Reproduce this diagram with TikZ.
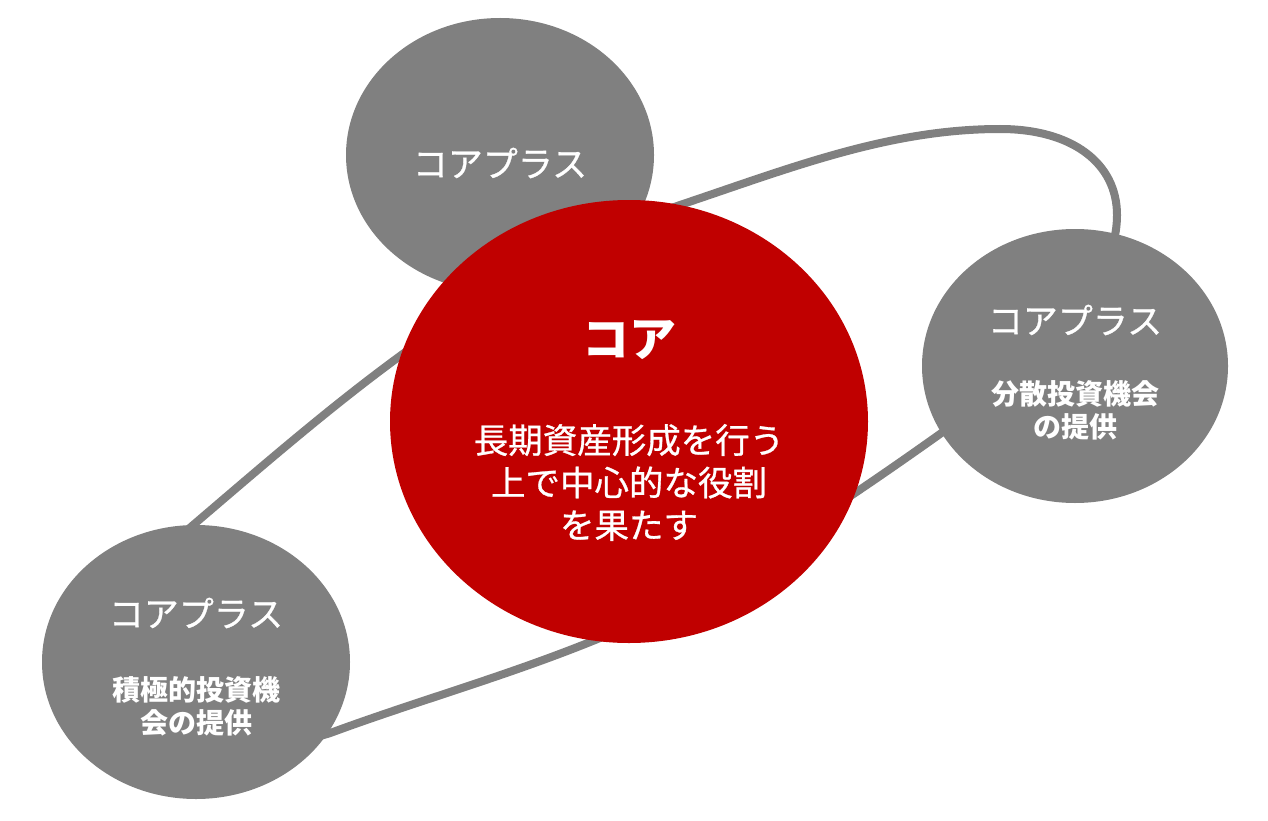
\documentclass[tikz,border=0pt]{standalone}
\usepackage{fontspec}
\newfontfamily\jp{Noto Sans CJK JP}
\newfontfamily\jpmed[FakeBold=0.8]{Noto Sans CJK JP}
\usetikzlibrary{shapes.geometric}
\definecolor{ringgray}{RGB}{128,128,128}
\definecolor{corered}{RGB}{192,0,0}
\begin{document}
\begin{tikzpicture}[x=1pt,y=-1pt,
  bubble/.style={ellipse, fill=ringgray, inner sep=0pt, minimum width=308pt, minimum height=274pt},
  corebubble/.style={ellipse, fill=corered, inner sep=0pt, minimum width=478pt, minimum height=443pt},
  ringline/.style={draw=ringgray, line width=8pt},
  plustitle/.style={text=white, inner sep=0pt, font=\jpmed\fontsize{35}{40}\selectfont},
  plussub/.style={text=white, inner sep=0pt, align=center, font=\jp\bfseries\fontsize{28}{33}\selectfont},
  coretitle/.style={text=white, inner sep=0pt, font=\jp\bfseries\fontsize{47}{52}\selectfont},
  coresub/.style={text=white, inner sep=0pt, align=center, font=\jpmed\fontsize{34.5}{42.5}\selectfont}]
\useasboundingbox (0,0) rectangle (1268,821);
\fill[white] (0,0) rectangle (1268,821);
% ring
\coordinate (r1) at (192,526);
\coordinate (r2) at (683,204);
\coordinate (r3) at (1000,129);
\coordinate (r4) at (1117,215);
\coordinate (r5) at (940,434);
\coordinate (r6) at (600,638);
\coordinate (r7) at (333,732);
\draw[ringline]
  (r1) .. controls (342,398) and (483,272) .. (r2)
       .. controls (793,167) and (890,129) .. (r3)
       .. controls (1072,129) and (1117,163) .. (r4)
       .. controls (1117,300) and (1010,384) .. (r5)
       .. controls (840,505) and (710,593) .. (r6)
       .. controls (510,675) and (420,700) .. (r7)
       .. controls (213,776) and (82,620) .. (r1) -- cycle;
% bubbles
\node[bubble] (top) at (500,155) {};
\node[bubble, minimum width=306pt] (right) at (1075,366) {};
\node[bubble] (left) at (196,662) {};
\node[corebubble] (core) at (629,421.5) {};
% texts
\node[plustitle] (toptitle) at (500,163) {コアプラス};
\node[plustitle] (righttitle) at (1075,320) {コアプラス};
\node[plussub] (rightsub) at (1075,410) {分散投資機会\\の提供};
\node[plustitle] (lefttitle) at (196,613) {コアプラス};
\node[plussub] (leftsub) at (196,706.5) {積極的投資機\\会の提供};
\node[coretitle] (coretitletext) at (629,340) {コア};
\node[coresub] (coresubtext) at (629,482.5) {長期資産形成を行う\\上で中心的な役割\\を果たす};
\end{tikzpicture}
\end{document}
